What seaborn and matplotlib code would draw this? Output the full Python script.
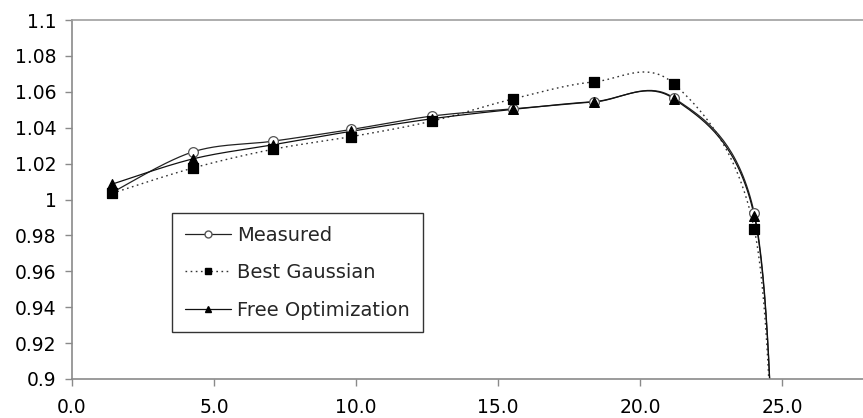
import numpy as np
import pandas as pd
import matplotlib
matplotlib.use("Agg")
import matplotlib.pyplot as plt
from matplotlib.lines import Line2D
import seaborn as sns

# ---- data ----
x_vals = [1.42, 4.25, 7.08, 9.83, 12.68, 15.52, 18.37, 21.2, 24.02, 24.8]
measured = [1.004, 1.0265, 1.0325, 1.039, 1.0465, 1.0505, 1.0543, 1.0565, 0.9925, 0.80]
best_gauss = [1.0035, 1.0175, 1.028, 1.035, 1.0437, 1.056, 1.0655, 1.0643, 0.9836, 0.79]
free_opt = [1.0086, 1.0226, 1.0305, 1.038, 1.045, 1.0502, 1.0545, 1.056, 0.9910, 0.80]
series_names = ["Measured", "Best Gaussian", "Free Optimization"]
x_ticks = [0, 5, 10, 15, 20, 25]
y_ticks = [0.9, 0.92, 0.94, 0.96, 0.98, 1.0, 1.02, 1.04, 1.06, 1.08, 1.1]
y_tick_labels = ["0.9", "0.92", "0.94", "0.96", "0.98", "1", "1.02", "1.04", "1.06", "1.08", "1.1"]

XMIN, XMAX = 0.0, 27.85
YMIN, YMAX = 0.9, 1.1


def smooth(xs, ys, n=40):
    """Excel-like smoothed line (Catmull-Rom Bezier) computed in normalized space."""
    xs = np.asarray(xs, float)
    ys = np.asarray(ys, float)
    sx = (xs - XMIN) / (XMAX - XMIN) * 790.0
    sy = (ys - YMIN) / (YMAX - YMIN) * 359.0
    P = np.column_stack([sx, sy])
    out = []
    m = len(P)
    for i in range(m - 1):
        p0 = P[i - 1] if i > 0 else P[i]
        p1 = P[i]
        p2 = P[i + 1]
        p3 = P[i + 2] if i + 2 < m else P[i + 1]
        c1 = p1 + (p2 - p0) / 6.0
        c2 = p2 - (p3 - p1) / 6.0
        t = np.linspace(0, 1, n)[:, None]
        b = ((1 - t) ** 3) * p1 + 3 * ((1 - t) ** 2) * t * c1 + 3 * (1 - t) * t ** 2 * c2 + t ** 3 * p2
        out.append(b if i == 0 else b[1:])
    B = np.vstack(out)
    bx = B[:, 0] / 790.0 * (XMAX - XMIN) + XMIN
    by = B[:, 1] / 359.0 * (YMAX - YMIN) + YMIN
    return bx, by


sns.set_theme(style="white")
plt.rcParams["font.family"] = ["DejaVu Sans"]

fig = plt.figure(figsize=(8.63, 4.18), dpi=100)
ax = fig.add_axes([72 / 863, 1 - 379 / 418, (863 - 72) / 863, (379 - 20) / 418])

styles = {
    "Measured": dict(ls="-", color="#222222", lw=0.9, marker="o", mfc="white", mec="#555555", ms=7),
    "Best Gaussian": dict(ls=(0, (1.2, 2.5)), color="#333333", lw=1.0, marker="s", mfc="black", mec="black", ms=7),
    "Free Optimization": dict(ls="-", color="#111111", lw=0.9, marker="^", mfc="black", mec="black", ms=7),
}
data = {"Measured": measured, "Best Gaussian": best_gauss, "Free Optimization": free_opt}

for name in series_names:
    st = styles[name]
    bx, by = smooth(x_vals, data[name])
    sns.lineplot(x=bx, y=by, sort=False, estimator=None, ax=ax,
                 color=st["color"], linewidth=st["lw"], linestyle=st["ls"])
    df = pd.DataFrame({"x": x_vals, "y": data[name]})
    sns.scatterplot(data=df, x="x", y="y", ax=ax, marker=st["marker"],
                    s=st["ms"] ** 2, facecolor=st["mfc"], edgecolor=st["mec"],
                    linewidth=0.9, zorder=5)

ax.set_xlim(XMIN, XMAX)
ax.set_ylim(YMIN, YMAX)
ax.set_xticks(x_ticks)
ax.set_xticklabels([f"{v:.1f}" for v in x_ticks])
ax.set_yticks(y_ticks)
ax.set_yticklabels(y_tick_labels)
ax.set_xlabel("")
ax.set_ylabel("")

for side in ["top", "left", "bottom"]:
    ax.spines[side].set_visible(True)
    ax.spines[side].set_color("#8a8a8a")
    ax.spines[side].set_linewidth(1.2)
ax.spines["top"].set_color("#a0a0a0")
ax.spines["right"].set_visible(False)

ax.tick_params(axis="both", which="major", direction="out", length=5, width=1.0,
               color="#8a8a8a", labelsize=13.5, labelcolor="black", pad=6,
               bottom=True, left=True)
ax.tick_params(axis="x", pad=9)
ax.grid(False)

handles = []
for name in series_names:
    st = styles[name]
    handles.append(Line2D([0], [0], color=st["color"], lw=st["lw"], ls=st["ls"],
                          marker=st["marker"], mfc=st["mfc"], mec=st["mec"], ms=5))
leg = ax.legend(handles, series_names, loc="upper left",
                bbox_to_anchor=((172 - 72) / 791, 1 - (213 - 20) / 359),
                fontsize=14, frameon=True, fancybox=False, framealpha=1,
                edgecolor="#333333", handlelength=2.4, handletextpad=0.3,
                labelspacing=0.95, borderpad=0.65, borderaxespad=0)
leg.get_frame().set_linewidth(1.0)

fig.savefig("out.png", dpi=100)
